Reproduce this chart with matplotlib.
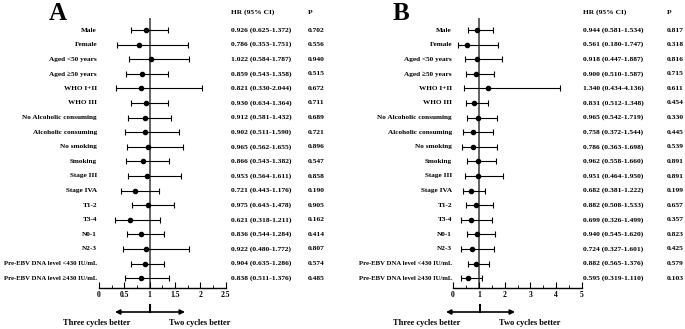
import numpy as np
import matplotlib
matplotlib.use("Agg")
import matplotlib.pyplot as plt
import matplotlib.transforms as mtransforms

plt.rcParams['font.family'] = ['Liberation Serif', 'DejaVu Serif']
plt.rcParams['font.weight'] = 'bold'

labels = ["Male", "Female", "Aged <50 years", "Aged \u226550 years", "WHO I+II", "WHO III",
          "No Alcoholic consuming", "Alcoholic consuming", "No smoking", "Smoking",
          "Stage III", "Stage IVA", "T1-2", "T3-4", "N0-1", "N2-3",
          "Pre-EBV DNA level <430 IU/mL", "Pre-EBV DNA level \u2265430 IU/mL"]

# panel A
hr_a = [0.926, 0.786, 1.022, 0.859, 0.821, 0.930, 0.912, 0.902, 0.965, 0.866,
        0.953, 0.721, 0.975, 0.621, 0.836, 0.922, 0.904, 0.838]
lo_a = [0.625, 0.353, 0.584, 0.543, 0.330, 0.634, 0.581, 0.511, 0.562, 0.543,
        0.564, 0.443, 0.643, 0.318, 0.544, 0.480, 0.635, 0.511]
hi_a = [1.372, 1.751, 1.787, 1.358, 2.044, 1.364, 1.432, 1.590, 1.655, 1.382,
        1.611, 1.176, 1.478, 1.211, 1.284, 1.772, 1.286, 1.376]
p_a = ["0.702", "0.556", "0.940", "0.515", "0.672", "0.711", "0.689", "0.721", "0.896",
       "0.547", "0.858", "0.190", "0.905", "0.162", "0.414", "0.807", "0.574", "0.485"]

# panel B
hr_b = [0.944, 0.561, 0.918, 0.900, 1.340, 0.831, 0.965, 0.758, 0.786, 0.962,
        0.951, 0.682, 0.882, 0.699, 0.940, 0.724, 0.882, 0.595]
lo_b = [0.581, 0.180, 0.447, 0.510, 0.434, 0.512, 0.542, 0.372, 0.363, 0.558,
        0.464, 0.381, 0.508, 0.326, 0.545, 0.327, 0.565, 0.319]
hi_b = [1.534, 1.747, 1.887, 1.587, 4.136, 1.348, 1.719, 1.544, 1.698, 1.660,
        1.950, 1.222, 1.533, 1.499, 1.620, 1.601, 1.376, 1.110]
p_b = ["0.817", "0.318", "0.816", "0.715", "0.611", "0.454", "0.330", "0.445", "0.539",
       "0.891", "0.891", "0.199", "0.657", "0.357", "0.823", "0.425", "0.579", "0.103"]

W, H = 685, 329
fig = plt.figure(figsize=(W / 100, H / 100), dpi=100)


def px(x):
    return x / W


def py(y):
    return 1 - y / H


def panel(letter, hr, lo, hi, pv, x0, x1, xmax, major, minor, lab_x, hr_x, p_x,
          letter_x, arr):
    n = len(hr)
    row0, step = 30, 14.6
    ytop, ybot = 18, 288
    ax = fig.add_axes([px(x0), py(ybot), px(x1 - x0), (ybot - ytop) / H])
    ax.set_ylim((ybot - row0) / step, (ytop - row0) / step)
    ax.set_xlim(0, xmax)
    ys = np.arange(n)
    hr = np.array(hr)
    err = [hr - np.array(lo), np.array(hi) - hr]
    ax.axvline(1, color='#555555', lw=1.3, zorder=1)
    ax.errorbar(hr, ys, xerr=err, fmt='o', color='black', ms=3, lw=0.8,
                capsize=2, capthick=0.8, zorder=2)
    for s in ['top', 'right', 'left']:
        ax.spines[s].set_visible(False)
    ax.spines['bottom'].set_linewidth(1.0)
    ax.set_yticks([])
    ax.set_xticks(np.arange(0, xmax + 1e-9, major))
    ax.set_xticks(np.arange(0, xmax + 1e-9, minor), minor=True)
    ax.set_xticklabels([("%g" % t) for t in np.arange(0, xmax + 1e-9, major)])
    ax.tick_params(axis='x', direction='in', length=4, width=0.8, labelsize=5.5, pad=2)
    ax.tick_params(axis='x', which='minor', direction='in', length=2, width=0.6)

    tr = mtransforms.blended_transform_factory(fig.transFigure, ax.transData)
    for i in range(n):
        fs = 4.9 if labels[i].startswith("Pre-EBV") else 5.2
        ax.text(px(lab_x), i, labels[i], transform=tr, ha='right', va='center',
                fontsize=fs, fontweight='bold', clip_on=False)
        ax.text(px(hr_x), i, "%.3f (%.3f-%.3f)" % (hr[i], lo[i], hi[i]), transform=tr,
                ha='left', va='center', fontsize=5.4, fontweight='bold', clip_on=False)
        ax.text(px(p_x), i, pv[i], transform=tr, ha='left', va='center',
                fontsize=5.4, fontweight='bold', clip_on=False)
    fig.text(px(hr_x), py(12), "HR (95% CI)", ha='left', va='center', fontsize=5.4,
             fontweight='bold')
    fig.text(px(p_x), py(12), "P", ha='left', va='center', fontsize=5.4, fontweight='bold')
    fig.text(px(letter_x), py(20), letter, ha='left', va='baseline', fontsize=18,
             fontweight='bold')

    # direction arrow
    a0, ac, a1, t0, t1 = arr
    fig.add_artist(plt.Line2D([px(ac), px(ac)], [py(305), py(312)], color='black', lw=1.5))
    ax.annotate("", xy=(px(a0), py(312)), xytext=(px(a1), py(312)),
                xycoords='figure fraction', textcoords='figure fraction',
                arrowprops=dict(arrowstyle='<|-|>', color='black', lw=1.2,
                                mutation_scale=7, shrinkA=0, shrinkB=0))
    fig.text(px(t0), py(323), "Three cycles better", ha='center', va='center',
             fontsize=6, fontweight='bold')
    fig.text(px(t1), py(323), "Two cycles better", ha='center', va='center',
             fontsize=6, fontweight='bold')


panel("A", hr_a, lo_a, hi_a, p_a, 99, 225.5, 2.5, 0.5, 0.25, 97, 231, 308, 49,
      (115, 150, 185, 97, 200))
panel("B", hr_b, lo_b, hi_b, p_b, 453, 582, 5, 1, 0.5, 452, 583, 667, 393,
      (446, 480, 515, 427, 530))

fig.savefig("out.png", dpi=100)
